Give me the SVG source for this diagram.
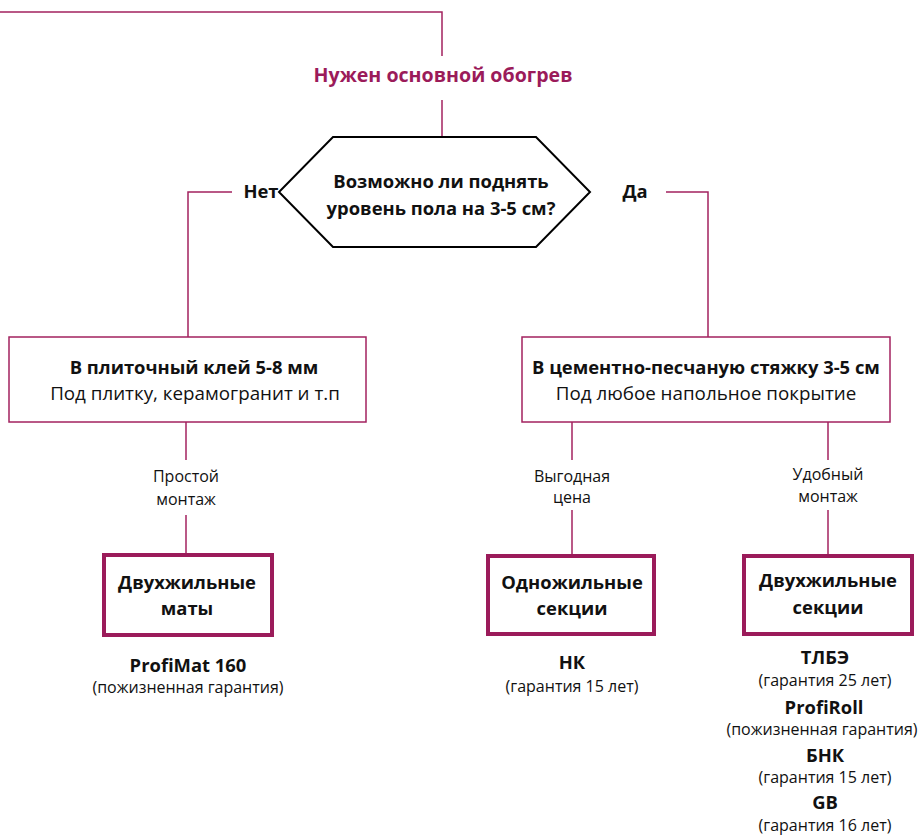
<svg xmlns="http://www.w3.org/2000/svg" width="920" height="836" viewBox="0 0 920 836">
<style>
.ln{fill:none;stroke:#a3225f;stroke-width:1.5}
.box{fill:#fff;stroke:#a3225f;stroke-width:1.5}
.tbox{fill:#fff;stroke:#9b1b5a;stroke-width:4}
.hex{fill:#fff;stroke:#000;stroke-width:2}
text{font-family:"Open Sans","Liberation Sans",sans-serif;text-anchor:middle;fill:#111}
.b{font-weight:bold;font-size:18.4px}
.r{font-size:18.8px}
.s{font-size:16px}
.t{fill:#9b1b5a;font-weight:bold;font-size:19.6px}
</style>
<g id="connectors">
<polyline class="ln" points="0,12 442,12 442,56"/>
<line class="ln" x1="442" y1="100" x2="442" y2="137"/>
<polyline class="ln" points="232,192 188,192 188,337"/>
<polyline class="ln" points="666,192 708,192 708,337"/>
<line class="ln" x1="186" y1="422" x2="186" y2="460"/>
<line class="ln" x1="186" y1="515" x2="186" y2="553"/>
<line class="ln" x1="572" y1="422" x2="572" y2="460"/>
<line class="ln" x1="572" y1="510" x2="572" y2="555"/>
<line class="ln" x1="828" y1="422" x2="828" y2="460"/>
<line class="ln" x1="828" y1="510" x2="828" y2="555"/>
</g>
<g id="start">
<text class="t" x="443" y="82">Нужен основной обогрев</text>
</g>
<g id="decision">
<polygon class="hex" points="333,137 536,137 590,192 536,247 333,247 279,192"/>
<text class="b" x="441" y="188">Возможно ли поднять</text>
<text class="b" x="441" y="215">уровень пола на 3-5 см?</text>
</g>
<g id="no-label"><text class="b" x="261" y="198">Нет</text></g>
<g id="yes-label"><text class="b" x="635" y="198">Да</text></g>
<g id="tile">
<rect class="box" x="9" y="337" width="357" height="85"/>
<text class="b" x="194" y="374">В плиточный клей 5-8 мм</text>
<text class="r" x="195" y="400">Под плитку, керамогранит и т.п</text>
</g>
<g id="screed">
<rect class="box" x="522" y="337" width="368" height="85"/>
<text class="b" x="706" y="374">В цементно-песчаную стяжку 3-5 см</text>
<text class="r" x="706" y="400">Под любое напольное покрытие</text>
</g>
<g id="lbl-simple">
<text class="s" x="186" y="482">Простой</text>
<text class="s" x="186" y="505">монтаж</text>
</g>
<g id="lbl-price">
<text class="s" x="572" y="482">Выгодная</text>
<text class="s" x="572" y="503">цена</text>
</g>
<g id="lbl-conv">
<text class="s" x="828" y="480">Удобный</text>
<text class="s" x="828" y="502">монтаж</text>
</g>
<g id="mats">
<rect class="tbox" x="104" y="555" width="168" height="80"/>
<text class="b" x="187" y="589">Двухжильные</text>
<text class="b" x="187" y="615">маты</text>
</g>
<g id="single">
<rect class="tbox" x="488" y="556" width="166" height="78"/>
<text class="b" x="572" y="589">Одножильные</text>
<text class="b" x="572" y="615">секции</text>
</g>
<g id="twin">
<rect class="tbox" x="744" y="556" width="168" height="78"/>
<text class="b" x="828" y="587">Двухжильные</text>
<text class="b" x="828" y="614">секции</text>
</g>
<g id="p-mats">
<text class="b" x="188" y="672">ProfiMat 160</text>
<text class="s" x="188" y="693">(пожизненная гарантия)</text>
</g>
<g id="p-single">
<text class="b" x="572" y="669">НК</text>
<text class="s" x="572" y="692">(гарантия 15 лет)</text>
</g>
<g id="p-twin">
<text class="b" x="825" y="664">ТЛБЭ</text>
<text class="s" x="825" y="686">(гарантия 25 лет)</text>
<text class="b" x="824" y="714">ProfiRoll</text>
<text class="s" x="822" y="735">(пожизненная гарантия)</text>
<text class="b" x="825" y="762">БНК</text>
<text class="s" x="825" y="783">(гарантия 15 лет)</text>
<text class="b" x="825" y="809">GB</text>
<text class="s" x="825" y="831">(гарантия 16 лет)</text>
</g>
</svg>
